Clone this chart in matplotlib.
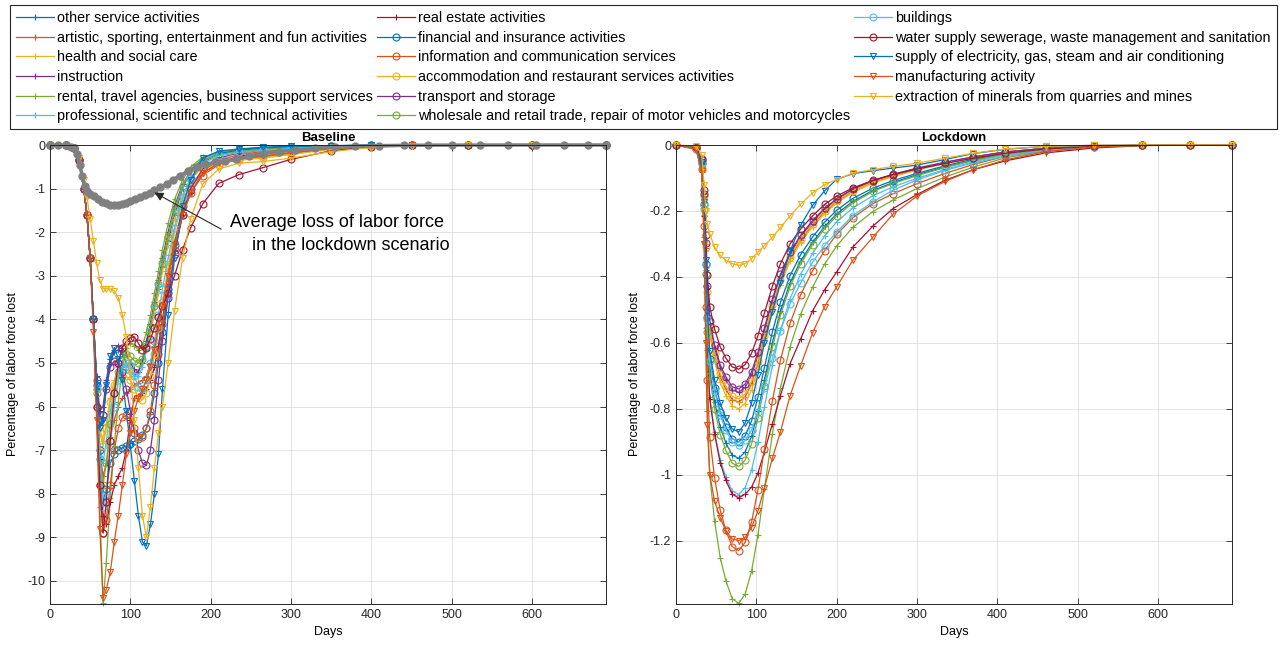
import matplotlib.pyplot as plt
from matplotlib.ticker import FuncFormatter

plt.rcParams['font.family'] = ['Liberation Sans', 'DejaVu Sans']
plt.rcParams['axes.unicode_minus'] = False

sectors = ['other service activities',
           'artistic, sporting, entertainment and fun activities',
           'health and social care',
           'instruction',
           'rental, travel agencies, business support services',
           'professional, scientific and technical activities',
           'real estate activities',
           'financial and insurance activities',
           'information and communication services',
           'accommodation and restaurant services activities',
           'transport and storage',
           'wholesale and retail trade, repair of motor vehicles and motorcycles',
           'buildings',
           'water supply sewerage, waste management and sanitation',
           'supply of electricity, gas, steam and air conditioning',
           'manufacturing activity',
           'extraction of minerals from quarries and mines']

# Baseline scenario (days, % of labor force lost)
b_days = [0, 20, 30, 36, 42, 46, 50, 54, 58, 62, 66, 70, 75, 80, 85, 90, 95, 100, 105, 110, 115, 120,
          125, 130, 135, 140, 147, 155, 165, 175, 190, 210, 235, 265, 300, 350, 400, 450, 520, 600, 692]
b_other = [0, -0.01, -0.08, -0.35, -1.0, -1.6, -2.6, -4.0, -5.4, -6.4, -6.3, -5.6, -5.0, -4.75, -4.7, -4.8, -5.0, -5.2, -5.3, -5.2, -4.9, -4.5, -4.1, -3.7, -3.3, -2.8, -2.2, -1.6, -1.0, -0.6, -0.3, -0.16, -0.1, -0.06, -0.035, -0.015, -0.005, 0, 0, 0, 0]
b_artistic = [0, -0.01, -0.08, -0.35, -1.0, -1.6, -2.6, -4.0, -5.6, -7.0, -7.6, -7.3, -6.7, -6.3, -6.0, -5.8, -5.7, -5.6, -5.5, -5.45, -5.4, -5.3, -5.0, -4.6, -4.1, -3.6, -2.9, -2.2, -1.5, -1.0, -0.6, -0.35, -0.22, -0.15, -0.1, -0.05, -0.02, -0.005, 0, 0, 0]
b_health = [0, -0.01, -0.08, -0.35, -1.0, -1.6, -2.6, -4.0, -5.5, -6.5, -6.8, -6.4, -5.8, -5.4, -5.1, -5.0, -5.0, -5.1, -5.2, -5.2, -5.0, -4.7, -4.3, -3.9, -3.4, -2.9, -2.3, -1.7, -1.15, -0.8, -0.5, -0.38, -0.32, -0.28, -0.2, -0.09, -0.03, -0.01, 0, 0, 0]
b_instruction = [0, -0.01, -0.08, -0.35, -1.0, -1.6, -2.6, -4.0, -5.3, -6.1, -6.0, -5.4, -4.9, -4.7, -4.6, -4.65, -4.8, -5.0, -5.15, -5.2, -5.0, -4.6, -4.1, -3.6, -3.1, -2.6, -2.0, -1.4, -0.9, -0.6, -0.35, -0.2, -0.14, -0.1, -0.06, -0.03, -0.01, 0, 0, 0, 0]
b_rental = [0, -0.01, -0.08, -0.35, -1.0, -1.6, -2.6, -4.0, -6.0, -8.3, -10.5, -9.6, -8.1, -6.9, -5.9, -5.1, -4.65, -4.55, -4.6, -4.7, -4.6, -4.3, -3.9, -3.4, -2.9, -2.4, -1.8, -1.25, -0.8, -0.5, -0.28, -0.17, -0.11, -0.07, -0.04, -0.02, -0.005, 0, 0, 0, 0]
b_professional = [0, -0.01, -0.08, -0.35, -1.0, -1.6, -2.6, -4.0, -5.6, -6.9, -7.3, -6.8, -6.1, -5.6, -5.35, -5.2, -5.15, -5.2, -5.3, -5.3, -5.1, -4.7, -4.2, -3.7, -3.2, -2.7, -2.1, -1.5, -0.95, -0.6, -0.33, -0.2, -0.13, -0.08, -0.05, -0.02, -0.01, 0, 0, 0, 0]
b_realestate = [0, -0.01, -0.08, -0.35, -1.0, -1.6, -2.6, -4.0, -5.6, -7.2, -8.5, -8.7, -8.2, -7.8, -7.6, -7.4, -7.0, -6.3, -5.8, -5.75, -5.7, -5.6, -5.4, -5.1, -4.6, -4.0, -3.2, -2.4, -1.6, -1.1, -0.65, -0.4, -0.26, -0.18, -0.12, -0.06, -0.02, -0.005, 0, 0, 0]
b_financial = [0, -0.01, -0.08, -0.35, -1.0, -1.6, -2.6, -4.0, -5.5, -7.0, -8.2, -7.9, -7.3, -7.1, -7.0, -6.95, -6.9, -6.85, -6.8, -6.75, -6.65, -6.5, -6.2, -5.7, -5.0, -4.3, -3.3, -2.3, -1.4, -0.8, -0.4, -0.2, -0.12, -0.07, -0.04, -0.02, -0.005, 0, 0, 0, 0]
b_information = [0, -0.01, -0.08, -0.35, -1.0, -1.6, -2.6, -4.0, -6.0, -7.8, -8.9, -8.6, -7.8, -7.0, -6.5, -6.25, -6.2, -6.3, -6.5, -6.7, -6.7, -6.5, -6.1, -5.5, -4.8, -4.1, -3.2, -2.4, -1.6, -1.1, -0.7, -0.45, -0.32, -0.25, -0.18, -0.08, -0.03, -0.01, 0, 0, 0]
b_accommodation = [0, -0.01, -0.08, -0.35, -1.0, -1.6, -2.6, -4.0, -5.6, -6.6, -6.9, -6.5, -5.9, -5.5, -5.35, -5.3, -5.3, -5.4, -5.6, -5.8, -5.85, -5.7, -5.3, -4.8, -4.2, -3.6, -2.8, -2.0, -1.3, -0.9, -0.6, -0.42, -0.35, -0.3, -0.22, -0.1, -0.035, -0.01, 0, 0, 0]
b_transport = [0, -0.01, -0.08, -0.35, -1.0, -1.6, -2.6, -4.0, -5.4, -6.3, -6.2, -5.6, -5.1, -4.95, -5.0, -5.2, -5.6, -6.1, -6.6, -7.0, -7.3, -7.35, -7.0, -6.3, -5.4, -4.5, -3.5, -2.5, -1.6, -1.0, -0.55, -0.3, -0.18, -0.12, -0.07, -0.03, -0.01, 0, 0, 0, 0]
b_wholesale = [0, -0.01, -0.08, -0.35, -1.0, -1.6, -2.6, -4.0, -5.7, -7.2, -7.8, -7.3, -6.4, -5.7, -5.2, -4.95, -4.8, -4.85, -4.95, -5.0, -4.9, -4.6, -4.2, -3.7, -3.2, -2.7, -2.1, -1.5, -0.95, -0.62, -0.36, -0.22, -0.15, -0.1, -0.06, -0.03, -0.01, 0, 0, 0, 0]
b_buildings = [0, -0.01, -0.08, -0.35, -1.0, -1.6, -2.6, -4.0, -5.6, -7.2, -8.3, -8.0, -6.9, -6.0, -5.4, -5.1, -5.0, -5.05, -5.3, -5.55, -5.6, -5.4, -5.0, -4.5, -3.9, -3.3, -2.6, -1.9, -1.2, -0.75, -0.42, -0.25, -0.17, -0.12, -0.08, -0.04, -0.015, 0, 0, 0, 0]
b_water = [0, -0.01, -0.08, -0.35, -1.0, -1.6, -2.6, -4.0, -6.0, -7.8, -8.9, -8.2, -6.8, -5.7, -5.0, -4.65, -4.5, -4.42, -4.4, -4.55, -4.7, -4.65, -4.45, -4.2, -3.95, -3.7, -3.4, -3.0, -2.4, -1.9, -1.35, -0.88, -0.68, -0.52, -0.33, -0.13, -0.04, -0.01, 0, 0, 0]
b_electricity = [0, -0.01, -0.08, -0.35, -1.0, -1.6, -2.6, -4.0, -5.5, -6.5, -6.3, -5.5, -4.85, -4.65, -4.9, -5.4, -6.1, -6.9, -7.7, -8.5, -9.1, -9.2, -8.7, -8.0, -7.1, -5.6, -3.9, -2.6, -1.4, -0.8, -0.3, -0.14, -0.09, -0.05, -0.03, -0.015, -0.005, 0, 0, 0, 0]
b_manufacturing = [0, -0.01, -0.08, -0.35, -1.0, -1.6, -2.6, -4.3, -6.3, -8.8, -10.4, -10.2, -9.8, -9.1, -8.5, -7.8, -7.1, -6.6, -6.1, -5.8, -5.6, -5.4, -5.1, -4.7, -4.2, -3.7, -3.0, -2.3, -1.6, -1.1, -0.65, -0.42, -0.32, -0.26, -0.18, -0.08, -0.03, -0.01, 0, 0, 0]
b_extraction = [0, -0.01, -0.08, -0.3, -0.8, -1.2, -1.7, -2.2, -2.7, -3.1, -3.3, -3.3, -3.3, -3.35, -3.5, -3.9, -4.4, -5.2, -6.3, -7.4, -8.5, -9.0, -8.3, -7.4, -6.6, -6.0, -5.0, -3.8, -2.6, -1.7, -0.9, -0.55, -0.42, -0.38, -0.3, -0.15, -0.06, -0.02, 0, 0, 0]

# average loss in the lockdown scenario (grey curve on the baseline panel)
avg_days = [0, 10, 20, 26, 30, 34, 37, 40, 43, 46, 50, 55, 60, 65, 70, 75, 80, 85, 90, 95, 100, 106, 112, 118,
            124, 130, 137, 145, 153, 162, 172, 182, 193, 205, 218, 232, 248, 265, 285, 305, 330, 355, 380,
            410, 440, 470, 500, 535, 570, 605, 640, 670, 692]
avg_loss = [0, 0, -0.01, -0.04, -0.08, -0.2, -0.45, -0.7, -0.95, -1.05, -1.12, -1.18, -1.24, -1.3, -1.34,
            -1.37, -1.38, -1.37, -1.35, -1.32, -1.29, -1.24, -1.19, -1.14, -1.09, -1.03, -0.97, -0.89, -0.8,
            -0.7, -0.6, -0.51, -0.44, -0.4, -0.37, -0.33, -0.26, -0.2, -0.15, -0.12, -0.08, -0.05, -0.03,
            -0.015, -0.008, -0.004, -0.002, -0.001, 0, 0, 0, 0, 0]

# Lockdown scenario
l_days = [0, 25, 32, 35, 37, 39, 42, 48, 55, 62, 70, 78, 86, 94, 102, 110, 120, 130, 142, 155, 170, 185,
          200, 220, 245, 270, 300, 335, 370, 410, 460, 520, 580, 640, 692]
l_other = [0, -0.01, -0.057, -0.19, -0.38, -0.551, -0.684, -0.779, -0.855, -0.903, -0.941, -0.95, -0.931, -0.884, -0.808, -0.713, -0.599, -0.504, -0.418, -0.352, -0.295, -0.247, -0.209, -0.171, -0.138, -0.114, -0.09, -0.067, -0.046, -0.027, -0.012, -0.004, -0.001, 0, 0]
l_artistic = [0, -0.008, -0.047, -0.156, -0.312, -0.452, -0.562, -0.64, -0.702, -0.741, -0.772, -0.78, -0.764, -0.725, -0.663, -0.585, -0.491, -0.413, -0.343, -0.289, -0.242, -0.203, -0.172, -0.14, -0.113, -0.094, -0.074, -0.055, -0.037, -0.022, -0.01, -0.003, -0.001, 0, 0]
l_health = [0, -0.008, -0.048, -0.16, -0.32, -0.464, -0.576, -0.656, -0.72, -0.76, -0.792, -0.8, -0.784, -0.744, -0.68, -0.6, -0.504, -0.424, -0.352, -0.296, -0.248, -0.208, -0.176, -0.144, -0.116, -0.096, -0.076, -0.056, -0.038, -0.022, -0.01, -0.003, -0.001, 0, 0]
l_instruction = [0, -0.008, -0.045, -0.15, -0.3, -0.435, -0.54, -0.615, -0.675, -0.713, -0.743, -0.75, -0.735, -0.698, -0.638, -0.563, -0.473, -0.398, -0.33, -0.278, -0.233, -0.195, -0.165, -0.135, -0.109, -0.09, -0.071, -0.053, -0.036, -0.021, -0.01, -0.003, -0.001, 0, 0]
l_rental = [0, -0.014, -0.083, -0.278, -0.556, -0.806, -1.001, -1.14, -1.251, -1.321, -1.376, -1.39, -1.362, -1.293, -1.182, -1.043, -0.876, -0.737, -0.612, -0.514, -0.431, -0.361, -0.306, -0.25, -0.202, -0.167, -0.132, -0.097, -0.067, -0.039, -0.018, -0.006, -0.001, 0, 0]
l_professional = [0, -0.011, -0.064, -0.212, -0.424, -0.615, -0.763, -0.869, -0.954, -1.007, -1.049, -1.06, -1.039, -0.986, -0.901, -0.795, -0.668, -0.562, -0.466, -0.392, -0.329, -0.276, -0.233, -0.191, -0.154, -0.127, -0.101, -0.074, -0.051, -0.03, -0.014, -0.004, -0.001, 0, 0]
l_realestate = [0, -0.011, -0.064, -0.214, -0.428, -0.621, -0.77, -0.877, -0.963, -1.017, -1.059, -1.07, -1.059, -1.038, -0.995, -0.931, -0.845, -0.76, -0.663, -0.589, -0.503, -0.439, -0.385, -0.31, -0.246, -0.193, -0.15, -0.107, -0.075, -0.048, -0.024, -0.009, -0.002, 0, 0]
l_financial = [0, -0.009, -0.054, -0.18, -0.36, -0.522, -0.648, -0.738, -0.81, -0.855, -0.891, -0.9, -0.882, -0.837, -0.765, -0.675, -0.567, -0.477, -0.396, -0.333, -0.279, -0.234, -0.198, -0.162, -0.131, -0.108, -0.086, -0.063, -0.043, -0.025, -0.012, -0.004, -0.001, 0, 0]
l_information = [0, -0.012, -0.074, -0.246, -0.492, -0.713, -0.886, -1.009, -1.107, -1.169, -1.218, -1.23, -1.205, -1.144, -1.046, -0.923, -0.775, -0.652, -0.541, -0.455, -0.381, -0.32, -0.271, -0.221, -0.178, -0.148, -0.117, -0.086, -0.059, -0.034, -0.016, -0.005, -0.001, 0, 0]
l_accommodation = [0, -0.008, -0.046, -0.154, -0.308, -0.447, -0.554, -0.631, -0.693, -0.732, -0.762, -0.77, -0.755, -0.716, -0.655, -0.578, -0.485, -0.408, -0.339, -0.285, -0.239, -0.2, -0.169, -0.139, -0.112, -0.092, -0.073, -0.054, -0.037, -0.022, -0.01, -0.003, -0.001, 0, 0]
l_transport = [0, -0.007, -0.044, -0.148, -0.296, -0.429, -0.533, -0.607, -0.666, -0.703, -0.733, -0.74, -0.725, -0.688, -0.629, -0.555, -0.466, -0.392, -0.326, -0.274, -0.229, -0.192, -0.163, -0.133, -0.107, -0.089, -0.07, -0.052, -0.036, -0.021, -0.01, -0.003, -0.001, 0, 0]
l_wholesale = [0, -0.01, -0.059, -0.195, -0.39, -0.566, -0.702, -0.8, -0.878, -0.926, -0.965, -0.975, -0.956, -0.907, -0.829, -0.731, -0.614, -0.517, -0.429, -0.361, -0.302, -0.254, -0.215, -0.176, -0.141, -0.117, -0.093, -0.068, -0.047, -0.027, -0.013, -0.004, -0.001, 0, 0]
l_buildings = [0, -0.009, -0.055, -0.182, -0.364, -0.528, -0.655, -0.746, -0.819, -0.865, -0.901, -0.91, -0.896, -0.865, -0.81, -0.737, -0.646, -0.564, -0.482, -0.419, -0.355, -0.305, -0.264, -0.214, -0.173, -0.137, -0.106, -0.077, -0.054, -0.034, -0.016, -0.005, -0.001, 0, 0]
l_water = [0, -0.007, -0.041, -0.136, -0.272, -0.394, -0.49, -0.558, -0.612, -0.646, -0.673, -0.68, -0.666, -0.632, -0.578, -0.51, -0.428, -0.36, -0.3, -0.255, -0.215, -0.18, -0.155, -0.13, -0.108, -0.09, -0.073, -0.056, -0.04, -0.025, -0.012, -0.004, -0.001, 0, 0]
l_electricity = [0, -0.009, -0.052, -0.174, -0.348, -0.505, -0.626, -0.713, -0.783, -0.827, -0.861, -0.87, -0.844, -0.783, -0.696, -0.6, -0.505, -0.418, -0.322, -0.244, -0.183, -0.139, -0.104, -0.087, -0.078, -0.07, -0.061, -0.044, -0.026, -0.013, -0.004, -0.001, 0, 0, 0]
l_manufacturing = [0, -0.012, -0.08, -0.3, -0.6, -0.85, -1.0, -1.08, -1.13, -1.17, -1.195, -1.2, -1.19, -1.16, -1.11, -1.04, -0.95, -0.87, -0.76, -0.67, -0.57, -0.49, -0.43, -0.35, -0.28, -0.21, -0.155, -0.11, -0.075, -0.045, -0.02, -0.006, -0.001, 0, 0]
l_extraction = [0, -0.003, -0.03, -0.12, -0.2, -0.24, -0.27, -0.31, -0.335, -0.35, -0.36, -0.365, -0.36, -0.345, -0.325, -0.305, -0.28, -0.25, -0.215, -0.18, -0.145, -0.12, -0.105, -0.085, -0.075, -0.065, -0.055, -0.04, -0.025, -0.012, -0.004, -0.001, 0, 0, 0]

baseline = [b_other, b_artistic, b_health, b_instruction, b_rental, b_professional, b_realestate,
            b_financial, b_information, b_accommodation, b_transport, b_wholesale, b_buildings,
            b_water, b_electricity, b_manufacturing, b_extraction]
lockdown = [l_other, l_artistic, l_health, l_instruction, l_rental, l_professional, l_realestate,
            l_financial, l_information, l_accommodation, l_transport, l_wholesale, l_buildings,
            l_water, l_electricity, l_manufacturing, l_extraction]

colors = ['#0072BD', '#D95319', '#EDB120', '#7E2F8E', '#77AC30', '#4DBEEE', '#A2142F']
markers = ['+'] * 7 + ['o'] * 7 + ['v'] * 3

fig = plt.figure(figsize=(12.88, 6.46), dpi=100)
ax1 = fig.add_axes([50 / 1288, 42 / 646, 556 / 1288, 459 / 646])
ax2 = fig.add_axes([676 / 1288, 42 / 646, 556 / 1288, 459 / 646])

handles = []
for i in range(len(sectors)):
    style = dict(color=colors[i % 7], marker=markers[i], ms=5, mew=0.8, mfc='none', lw=0.9, clip_on=False)
    ln, = ax1.plot(b_days, baseline[i], **style)
    ax2.plot(l_days, lockdown[i], **style)
    handles.append(ln)

ax1.plot(avg_days, avg_loss, color='#808080', marker='o', ms=5, lw=2.5, clip_on=False)

fmt = FuncFormatter(lambda v, p: '%g' % round(v, 4))
for ax, title in [(ax1, 'Baseline'), (ax2, 'Lockdown')]:
    ax.set_xlim(0, 692)
    ax.set_xticks(range(0, 700, 100))
    ax.yaxis.set_major_formatter(fmt)
    ax.grid(True, color='#dedede', lw=0.6)
    ax.set_axisbelow(True)
    ax.tick_params(direction='in', top=True, right=True, length=4, width=0.6,
                   colors='#262626', labelsize=9)
    for s in ax.spines.values():
        s.set_color('#262626')
        s.set_linewidth(0.7)
    ax.set_title(title, fontsize=9.5, fontweight='bold', pad=3)
    ax.set_xlabel('Days', fontsize=9)
    ax.set_ylabel('Percentage of labor force lost', fontsize=9, labelpad=6)

ax1.set_ylim(-10.53, 0)
ax1.set_yticks(range(-10, 1))
ax2.set_ylim(-1.392, 0)
ax2.set_yticks([-1.2, -1.0, -0.8, -0.6, -0.4, -0.2, 0])

ax1.annotate('', xy=(127, -1.06), xytext=(216, -1.96),
             arrowprops=dict(arrowstyle='-|>', color='#262626', lw=0.8, mutation_scale=13))
ax1.text(224, -1.77, 'Average loss of labor force', fontsize=13, va='center', ha='left')
ax1.text(252, -2.30, 'in the lockdown scenario', fontsize=13, va='center', ha='left')

leg = fig.legend(handles, sectors, loc='upper left', bbox_to_anchor=(10 / 1288, 0.80, 1267 / 1288, 0.1923),
                 mode='expand', ncol=3, fontsize=10.4, fancybox=False, edgecolor='#262626', framealpha=1,
                 handlelength=2.6, handletextpad=0.25, labelspacing=0.39, borderpad=0.42, borderaxespad=0)
leg.get_frame().set_linewidth(0.8)

fig.savefig('out.png', dpi=100)
